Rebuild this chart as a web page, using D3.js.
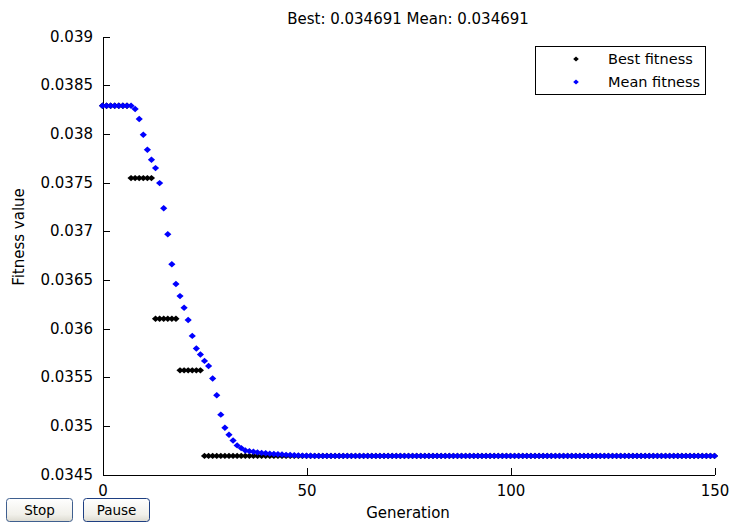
<!DOCTYPE html>
<html>
<head>
<meta charset="utf-8">
<script src="https://cdn.jsdelivr.net/npm/d3@7"></script>
<style>
  body { margin: 0; background: #fff; }
  svg text { font-family: "DejaVu Sans", sans-serif; fill: #000; }
</style>
</head>
<body>
<div id="chart"></div>
<script>
// values, one per generation (0..150)
const meanFitness = [
  0.038289, 0.038289, 0.038289, 0.038289, 0.038289, 0.038289, 0.038289, 0.038289,
  0.038255, 0.038153, 0.037991, 0.037836, 0.037733, 0.037648, 0.037494, 0.037236,
  0.036968, 0.036660, 0.036457, 0.036333, 0.036213, 0.036087, 0.035924, 0.035795,
  0.035733, 0.035667, 0.035615, 0.035486, 0.035314, 0.035115, 0.034981, 0.034909,
  0.034850, 0.034799, 0.034771, 0.034747, 0.034740, 0.034733, 0.034727, 0.034722,
  0.034718, 0.034714, 0.034711, 0.034708, 0.034705, 0.034702, 0.034700, 0.034698,
  0.034696, 0.034694, 0.034693, 0.034692,
  0.034691, 0.034691, 0.034691, 0.034691, 0.034691, 0.034691, 0.034691, 0.034691, 0.034691, 0.034691,
  0.034691, 0.034691, 0.034691, 0.034691, 0.034691, 0.034691, 0.034691, 0.034691, 0.034691, 0.034691,
  0.034691, 0.034691, 0.034691, 0.034691, 0.034691, 0.034691, 0.034691, 0.034691, 0.034691, 0.034691,
  0.034691, 0.034691, 0.034691, 0.034691, 0.034691, 0.034691, 0.034691, 0.034691, 0.034691, 0.034691,
  0.034691, 0.034691, 0.034691, 0.034691, 0.034691, 0.034691, 0.034691, 0.034691, 0.034691, 0.034691,
  0.034691, 0.034691, 0.034691, 0.034691, 0.034691, 0.034691, 0.034691, 0.034691, 0.034691, 0.034691,
  0.034691, 0.034691, 0.034691, 0.034691, 0.034691, 0.034691, 0.034691, 0.034691, 0.034691, 0.034691,
  0.034691, 0.034691, 0.034691, 0.034691, 0.034691, 0.034691, 0.034691, 0.034691, 0.034691, 0.034691,
  0.034691, 0.034691, 0.034691, 0.034691, 0.034691, 0.034691, 0.034691, 0.034691, 0.034691, 0.034691,
  0.034691, 0.034691, 0.034691, 0.034691, 0.034691, 0.034691, 0.034691, 0.034691, 0.034691
];

const bestFitness = [
  0.038289, 0.038289, 0.038289, 0.038289, 0.038289, 0.038289, 0.038289,
  0.037545, 0.037545, 0.037545, 0.037545, 0.037545, 0.037545,
  0.036100, 0.036100, 0.036100, 0.036100, 0.036100, 0.036100,
  0.035570, 0.035570, 0.035570, 0.035570, 0.035570, 0.035570,
  0.034691, 0.034691, 0.034691, 0.034691, 0.034691, 0.034691, 0.034691, 0.034691, 0.034691, 0.034691,
  0.034691, 0.034691, 0.034691, 0.034691, 0.034691, 0.034691, 0.034691, 0.034691, 0.034691, 0.034691,
  0.034691, 0.034691, 0.034691, 0.034691, 0.034691, 0.034691, 0.034691, 0.034691, 0.034691, 0.034691,
  0.034691, 0.034691, 0.034691, 0.034691, 0.034691, 0.034691, 0.034691, 0.034691, 0.034691, 0.034691,
  0.034691, 0.034691, 0.034691, 0.034691, 0.034691, 0.034691, 0.034691, 0.034691, 0.034691, 0.034691,
  0.034691, 0.034691, 0.034691, 0.034691, 0.034691, 0.034691, 0.034691, 0.034691, 0.034691, 0.034691,
  0.034691, 0.034691, 0.034691, 0.034691, 0.034691, 0.034691, 0.034691, 0.034691, 0.034691, 0.034691,
  0.034691, 0.034691, 0.034691, 0.034691, 0.034691, 0.034691, 0.034691, 0.034691, 0.034691, 0.034691,
  0.034691, 0.034691, 0.034691, 0.034691, 0.034691, 0.034691, 0.034691, 0.034691, 0.034691, 0.034691,
  0.034691, 0.034691, 0.034691, 0.034691, 0.034691, 0.034691, 0.034691, 0.034691, 0.034691, 0.034691,
  0.034691, 0.034691, 0.034691, 0.034691, 0.034691, 0.034691, 0.034691, 0.034691, 0.034691, 0.034691,
  0.034691, 0.034691, 0.034691, 0.034691, 0.034691, 0.034691, 0.034691, 0.034691, 0.034691, 0.034691,
  0.034691, 0.034691, 0.034691, 0.034691, 0.034691, 0.034691
];

const xTicks = [0, 50, 100, 150];
const yTicks = [0.0345, 0.035, 0.0355, 0.036, 0.0365, 0.037, 0.0375, 0.038, 0.0385, 0.039];
const yTickLabels = ["0.0345", "0.035", "0.0355", "0.036", "0.0365", "0.037", "0.0375", "0.038", "0.0385", "0.039"];
const seriesNames = ["Best fitness", "Mean fitness"];
const titleText = "Best: 0.034691 Mean: 0.034691";

const W = 730, H = 522;

const svg = d3.select("#chart")
  .append("svg")
  .attr("width", W)
  .attr("height", H);

const xScale = d3.scaleLinear().domain([0, 150]).range([102.5, 714.5]);
const yScale = d3.scaleLinear().domain([0.0345, 0.039]).range([474.5, 36.5]);

// little diamond, a bit wider than tall like the stretched screenshot
function diamond(hw, hh) {
  return {
    draw(ctx) {
      ctx.moveTo(-hw, 0);
      ctx.lineTo(0, -hh);
      ctx.lineTo(hw, 0);
      ctx.lineTo(0, hh);
      ctx.closePath();
    }
  };
}
const markerPath = d3.symbol().type(diamond(3.6, 3.2))();
const legendMarker = d3.symbol().type(diamond(2.8, 2.4))();

// axes, ticks pointing inward
svg.append("g")
  .attr("transform", "translate(0,474.5)")
  .call(d3.axisBottom(xScale)
    .tickValues(xTicks)
    .tickSizeInner(-7)
    .tickSizeOuter(0)
    .tickPadding(11))
  .call(g => g.selectAll("text").attr("font-size", "15px").attr("font-family", "DejaVu Sans"));

svg.append("g")
  .attr("transform", "translate(102.5,0)")
  .call(d3.axisLeft(yScale)
    .tickValues(yTicks)
    .tickFormat((d, i) => yTickLabels[i])
    .tickSizeInner(-7)
    .tickSizeOuter(0)
    .tickPadding(9.5))
  .call(g => g.selectAll("text").attr("font-size", "15px").attr("font-family", "DejaVu Sans"));

svg.selectAll(".domain, .tick line").attr("stroke", "#000").attr("shape-rendering", "crispEdges");

// best first so mean sits on top of it
svg.append("g")
  .selectAll("path")
  .data(bestFitness)
  .enter()
  .append("path")
  .attr("d", markerPath)
  .attr("transform", (d, i) => "translate(" + xScale(i) + "," + yScale(d) + ")")
  .attr("fill", "#000");

svg.append("g")
  .selectAll("path")
  .data(meanFitness)
  .enter()
  .append("path")
  .attr("d", markerPath)
  .attr("transform", (d, i) => "translate(" + xScale(i) + "," + yScale(d) + ")")
  .attr("fill", "#0000ff");

// title and axis labels
svg.append("text")
  .attr("x", 408)
  .attr("y", 24)
  .attr("text-anchor", "middle")
  .attr("font-size", "15px")
  .text(titleText);

svg.append("text")
  .attr("x", 408)
  .attr("y", 518)
  .attr("text-anchor", "middle")
  .attr("font-size", "15px")
  .text("Generation");

svg.append("text")
  .attr("transform", "rotate(-90)")
  .attr("x", -237)
  .attr("y", 24)
  .attr("text-anchor", "middle")
  .attr("font-size", "15px")
  .text("Fitness value");

// legend
const legend = svg.append("g");
legend.append("rect")
  .attr("x", 535.5)
  .attr("y", 46.5)
  .attr("width", 170)
  .attr("height", 48)
  .attr("fill", "#fff")
  .attr("stroke", "#000")
  .attr("shape-rendering", "crispEdges");

const legendColors = ["#000", "#0000ff"];
seriesNames.forEach(function(name, i) {
  const ly = 59 + i * 23;
  legend.append("path")
    .attr("d", legendMarker)
    .attr("transform", "translate(576," + ly + ")")
    .attr("fill", legendColors[i]);
  legend.append("text")
    .attr("x", 608)
    .attr("y", ly)
    .attr("dy", "0.36em")
    .attr("font-size", "14.5px")
    .text(name);
});

// the two GUI buttons under the plot
const grad = svg.append("defs").append("linearGradient")
  .attr("id", "btnGrad")
  .attr("x1", 0).attr("y1", 0).attr("x2", 0).attr("y2", 1);
grad.append("stop").attr("offset", "0%").attr("stop-color", "#ffffff");
grad.append("stop").attr("offset", "70%").attr("stop-color", "#f1f0ea");
grad.append("stop").attr("offset", "100%").attr("stop-color", "#dcdad0");

const buttons = [
  { label: "Stop", x: 6, stroke: "#3f5f8f" },
  { label: "Pause", x: 83, stroke: "#1e3f82" }
];
buttons.forEach(function(b) {
  svg.append("rect")
    .attr("x", b.x + 0.5)
    .attr("y", 498.5)
    .attr("width", 66)
    .attr("height", 23)
    .attr("rx", 3)
    .attr("fill", "url(#btnGrad)")
    .attr("stroke", b.stroke);
  svg.append("text")
    .attr("x", b.x + 33.5)
    .attr("y", 515)
    .attr("text-anchor", "middle")
    .attr("font-size", "13.5px")
    .text(b.label);
});
</script>
</body>
</html>
